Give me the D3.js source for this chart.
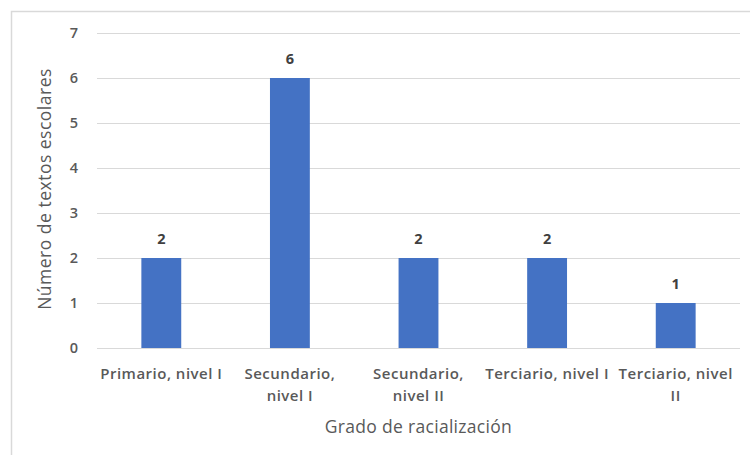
<!DOCTYPE html>
<html>
<head>
<meta charset="utf-8">
<script src="https://cdn.jsdelivr.net/npm/d3@7"></script>
<style>
  html, body { margin: 0; padding: 0; background: #fff; }
  svg { display: block; font-family: "Open Sans", "Noto Sans", sans-serif; }
</style>
</head>
<body>
<svg id="chart" width="750" height="455"></svg>
<script>
// Grades of racialization and the number of school texts in each
const categories = [
  ["Primario, nivel I"],
  ["Secundario,", "nivel I"],
  ["Secundario,", "nivel II"],
  ["Terciario, nivel I"],
  ["Terciario, nivel", "II"]
];
const values = [2, 6, 2, 2, 1];
const yTicks = [0, 1, 2, 3, 4, 5, 6, 7];
const xTitle = "Grado de racialización";
const yTitle = "Número de textos escolares";

const svg = d3.select("#chart");
const plotLeft = 97, plotRight = 740, plotTop = 33, plotBottom = 348;

// Outer chart frame
svg.append("rect")
  .attr("x", 11.5).attr("y", 11.5)
  .attr("width", 800).attr("height", 500)
  .attr("fill", "#fff")
  .attr("stroke", "#d9d9d9")
  .attr("stroke-width", 1.5);

const x = d3.scaleBand()
  .domain(d3.range(categories.length))
  .range([plotLeft, plotRight])
  .paddingInner(0.69)
  .paddingOuter(0.345);

const y = d3.scaleLinear()
  .domain([0, 7])
  .range([plotBottom, plotTop]);

// Horizontal gridlines
svg.append("g")
  .selectAll("line")
  .data(yTicks)
  .join("line")
  .attr("x1", plotLeft).attr("x2", plotRight)
  .attr("y1", d => Math.round(y(d)) + 0.5)
  .attr("y2", d => Math.round(y(d)) + 0.5)
  .attr("stroke", "#d9d9d9")
  .attr("stroke-width", 1.2);

// Y axis tick labels
const yAxis = d3.axisLeft(y).tickValues(yTicks).tickFormat(d3.format("d")).tickSize(0).tickPadding(0);
const gy = svg.append("g")
  .attr("transform", `translate(${plotLeft - 19},0)`)
  .call(yAxis);
gy.select(".domain").remove();
gy.selectAll("text")
  .attr("fill", "#595959")
  .attr("font-family", "'Open Sans', sans-serif")
  .attr("font-size", 14.5)
  .attr("font-weight", 600);

// Bars
svg.append("g")
  .selectAll("rect")
  .data(values)
  .join("rect")
  .attr("x", (d, i) => x(i))
  .attr("y", d => y(d))
  .attr("width", x.bandwidth())
  .attr("height", d => y(0) - y(d))
  .attr("fill", "#4472c4");

// Value labels above bars
svg.append("g")
  .selectAll("text")
  .data(values)
  .join("text")
  .attr("x", (d, i) => x(i) + x.bandwidth() / 2)
  .attr("y", d => y(d) - 14)
  .attr("text-anchor", "middle")
  .attr("fill", "#404040")
  .attr("font-size", 14.5)
  .attr("font-weight", 700)
  .text(d => d);

// Category labels (wrapped)
const xl = svg.append("g")
  .selectAll("text")
  .data(categories)
  .join("text")
  .attr("x", (d, i) => x(i) + x.bandwidth() / 2)
  .attr("y", 379)
  .attr("text-anchor", "middle")
  .attr("fill", "#595959")
  .attr("font-size", 15)
  .attr("font-weight", 600)
  .attr("letter-spacing", 0.5);
xl.each(function(lines) {
  const t = d3.select(this);
  const cx = t.attr("x");
  lines.forEach((ln, k) => {
    t.append("tspan").attr("x", cx).attr("dy", k === 0 ? 0 : 22).text(ln);
  });
});

// Axis titles
svg.append("text")
  .attr("x", (plotLeft + plotRight) / 2)
  .attr("y", 433)
  .attr("text-anchor", "middle")
  .attr("fill", "#595959")
  .attr("font-size", 17.5)
  .attr("letter-spacing", 0.3)
  .text(xTitle);

svg.append("text")
  .attr("transform", `translate(51,189) rotate(-90)`)
  .attr("text-anchor", "middle")
  .attr("fill", "#595959")
  .attr("font-size", 17.5)
  .attr("letter-spacing", 0.5)
  .text(yTitle);
</script>
</body>
</html>
